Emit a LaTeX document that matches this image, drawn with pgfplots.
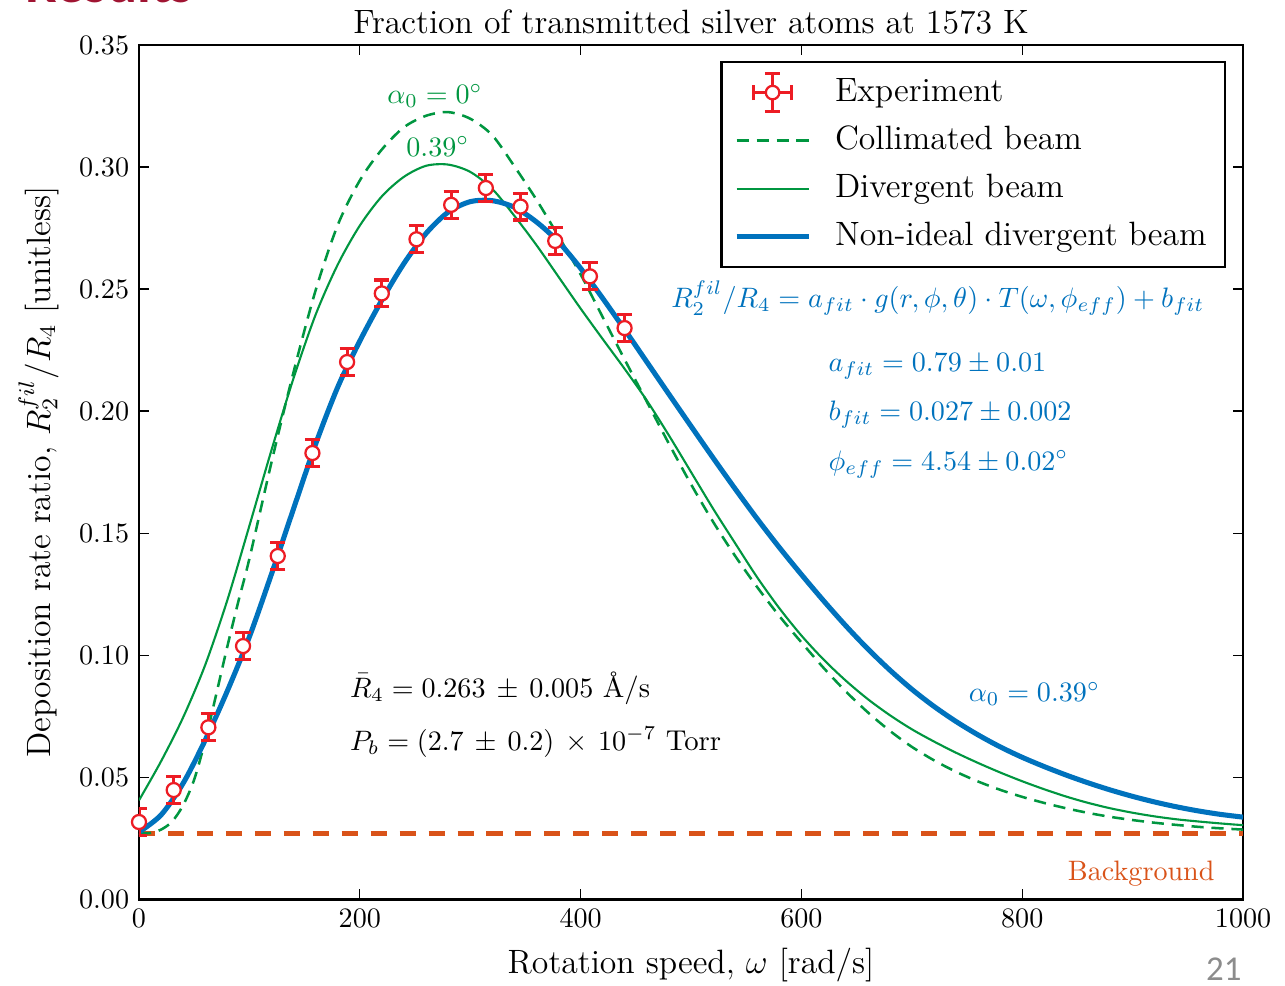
\documentclass[border=0pt]{standalone}
\usepackage{pgfplots}
\usepackage{pgfplotstable}
\pgfplotsset{compat=1.18}
\usepackage{fontspec}
\newfontfamily\calibri{Carlito}
\definecolor{expred}{RGB}{237,28,36}
\definecolor{grn}{RGB}{0,150,64}
\definecolor{blu}{RGB}{0,114,189}
\definecolor{org}{RGB}{217,83,25}
\definecolor{slidered}{RGB}{160,20,50}

\pgfplotstableread{
x y e
0 0.0316 0.0055
31.42 0.0447 0.0055
62.83 0.0704 0.0055
94.25 0.1037 0.0055
125.66 0.1406 0.0055
157.08 0.1828 0.0055
188.50 0.2201 0.0055
219.91 0.2482 0.0055
251.33 0.2704 0.0055
282.74 0.2845 0.0055
314.16 0.2914 0.0055
345.58 0.2838 0.0055
376.99 0.2697 0.0055
408.41 0.2552 0.0055
439.82 0.2340 0.0055
}\exper

\pgfplotstableread{
x y
0 0.0275
20 0.0345
40 0.0475
60 0.0652
80 0.0853
100 0.1075
120 0.1332
140 0.1600
160 0.1865
180 0.2098
200 0.2287
220 0.2455
240 0.2605
260 0.2728
280 0.2815
300 0.2858
320 0.2862
340 0.2835
360 0.2775
380 0.2693
400 0.2585
420 0.2462
440 0.2333
460 0.2201
480 0.2069
500 0.1938
520 0.1808
540 0.1681
560 0.1558
580 0.1441
600 0.1330
620 0.1223
640 0.1121
660 0.1026
680 0.0939
700 0.0860
720 0.0790
740 0.0728
760 0.0673
780 0.0624
800 0.0581
820 0.0543
840 0.0508
860 0.0476
880 0.0447
900 0.0421
920 0.0398
940 0.0378
960 0.0361
980 0.0347
1000 0.0336
}\nonideal

\pgfplotstableread{
x y
0 0.0405
20 0.0565
40 0.0745
60 0.0960
80 0.1225
100 0.1530
120 0.1840
140 0.2135
160 0.2395
180 0.2600
200 0.2760
220 0.2880
240 0.2960
260 0.3005
280 0.3010
300 0.2980
320 0.2910
340 0.2800
360 0.2680
380 0.2550
400 0.2420
420 0.2295
440 0.2172
460 0.2043
480 0.1900
500 0.1750
520 0.1600
540 0.1458
560 0.1318
580 0.1192
600 0.1080
620 0.0982
640 0.0896
660 0.0820
680 0.0754
700 0.0696
720 0.0646
740 0.0600
760 0.0558
780 0.0519
800 0.0483
820 0.0450
840 0.0420
860 0.0394
880 0.0372
900 0.0354
920 0.0339
940 0.0327
960 0.0318
980 0.0310
1000 0.0303
}\divergent

\pgfplotstableread{
x y
0 0.0270
10 0.0271
20 0.0285
30 0.0318
40 0.0385
50 0.0490
60 0.0650
70 0.0840
80 0.1035
90 0.1220
100 0.1395
120 0.1790
140 0.2160
160 0.2495
180 0.2762
200 0.2945
220 0.3072
240 0.3163
260 0.3210
280 0.3225
300 0.3198
320 0.3130
340 0.3003
360 0.2866
380 0.2716
400 0.2560
420 0.2385
440 0.2210
460 0.2038
480 0.1866
500 0.1700
520 0.1546
540 0.1406
560 0.1278
580 0.1160
600 0.1052
620 0.0948
640 0.0852
660 0.0766
680 0.0690
700 0.0624
720 0.0569
740 0.0522
760 0.0482
780 0.0448
800 0.0419
820 0.0394
840 0.0372
860 0.0353
880 0.0337
900 0.0324
920 0.0313
940 0.0304
960 0.0296
980 0.0290
1000 0.0285
}\collimated

\begin{document}
\begin{tikzpicture}
\begin{axis}[
  scale only axis, width=392.7pt, height=303.8pt,
  xmin=0, xmax=1000, ymin=0, ymax=0.35,
  xtick={0,200,400,600,800,1000},
  ytick={0,0.05,0.1,0.15,0.2,0.25,0.3,0.35},
  yticklabel style={/pgf/number format/.cd,fixed,fixed zerofill,precision=2},
  xticklabel style={/pgf/number format/1000 sep={}},
  tick label style={font=\fontsize{10}{12}\selectfont},
  tick align=inside, xtick pos=both, ytick pos=both,
  major tick length=3.5pt,
  every tick/.style={black, line width=0.4pt},
  axis line style={line width=1pt},
  title={Fraction of transmitted silver atoms at 1573 K},
  title style={font=\fontsize{12}{14}\selectfont, at={(0.5,0.9943)}, anchor=base},
  xlabel={Rotation speed, $\omega$ [rad/s]},
  xlabel style={font=\fontsize{12}{14}\selectfont, at={(0.5,-0.0875)}, anchor=base},
  ylabel={Deposition rate ratio, $R_2^{fil}/R_4$ [unitless]},
  ylabel style={font=\fontsize{12}{14}\selectfont, at={(-0.0806,0.5)}, anchor=base, rotate=0},
  legend image code/.code={\draw[#1] (0cm,0cm) -- (0.9cm,0cm);},
  legend style={at={(0.9846,0.981)}, anchor=north east, draw=black, line width=0.8pt,
    font=\fontsize{12}{14}\selectfont, inner xsep=4.5pt, inner ysep=2.2pt,
    nodes={text height=8.6pt, text depth=2.6pt, inner ysep=2.95pt},
    /tikz/every odd column/.append style={column sep=6.5pt}},
  legend cell align=left,
]
\addlegendimage{legend image code/.code={
  \draw[expred,line width=1.1pt] (0.21cm,0cm)--(0.69cm,0cm) (0.45cm,-0.24cm)--(0.45cm,0.24cm);
  \draw[expred,line width=1.1pt] (0.21cm,-0.095cm)--(0.21cm,0.095cm) (0.69cm,-0.095cm)--(0.69cm,0.095cm)
     (0.355cm,0.24cm)--(0.545cm,0.24cm) (0.355cm,-0.24cm)--(0.545cm,-0.24cm);
  \draw[expred,fill=white,line width=0.8pt] (0.45cm,0cm) circle (2.4pt);}}
\addlegendentry{Experiment}
\addlegendimage{grn, line width=0.9pt, dash pattern=on 4.3pt off 2.8pt}
\addlegendentry{Collimated beam}
\addlegendimage{grn, line width=0.75pt}
\addlegendentry{Divergent beam}
\addlegendimage{blu, line width=1.8pt}
\addlegendentry{Non-ideal divergent beam}

\addplot[forget plot, org, line width=1.8pt, dash pattern=on 5.7pt off 4.6pt] coordinates {(0,0.027) (1000,0.027)};
\addplot[forget plot, grn, line width=0.9pt, dash pattern=on 4.3pt off 2.8pt, smooth] table[x=x,y=y] {\collimated};
\addplot[forget plot, grn, line width=0.75pt, smooth] table[x=x,y=y] {\divergent};
\addplot[forget plot, blu, line width=1.8pt, smooth] table[x=x,y=y] {\nonideal};
\addplot[forget plot, expred, only marks, mark=*, mark size=2.5pt,
  mark options={fill=white, draw=expred, line width=0.8pt, solid},
  error bars/.cd, y dir=both, y explicit,
  error bar style={line width=1.1pt, expred},
  error mark options={rotate=90, mark size=2.7pt, line width=1.1pt, expred}]
  table[x=x, y=y, y error=e] {\exper};

\node[grn, anchor=base, font=\fontsize{10.2}{12}\selectfont] at (axis cs:268.1,0.3261) {$\alpha_0 = 0^{\circ}$};
\node[grn, anchor=base, font=\fontsize{10.2}{12}\selectfont] at (axis cs:270.7,0.3045) {$0.39^{\circ}$};
\node[blu, anchor=base west, font=\fontsize{10.2}{12}\selectfont, inner sep=0pt] at (axis cs:481.6,0.2424) {$R_2^{fil}/R_4 = a_{fit}\cdot g(r,\phi,\theta)\cdot T(\omega,\phi_{eff}) + b_{fit}$};
\node[blu, anchor=base west, font=\fontsize{10.2}{12}\selectfont, inner sep=0pt] at (axis cs:624,0.2164) {$a_{fit} = 0.79 \pm 0.01$};
\node[blu, anchor=base west, font=\fontsize{10.2}{12}\selectfont, inner sep=0pt] at (axis cs:624,0.1963) {$b_{fit} = 0.027 \pm 0.002$};
\node[blu, anchor=base west, font=\fontsize{10.2}{12}\selectfont, inner sep=0pt] at (axis cs:624,0.1758) {$\phi_{eff} = 4.54 \pm 0.02^{\circ}$};
\node[black, anchor=base west, font=\fontsize{10.2}{12}\selectfont, inner sep=0pt] at (axis cs:190.7,0.0828) {$\bar{R}_4 = 0.263 \,\pm\, 0.005$ \AA/s};
\node[black, anchor=base west, font=\fontsize{10.2}{12}\selectfont, inner sep=0pt] at (axis cs:190.7,0.0611) {$P_b = (2.7 \,\pm\, 0.2) \,\times\, 10^{-7}$ Torr};
\node[blu, anchor=base west, font=\fontsize{10.2}{12}\selectfont, inner sep=0pt] at (axis cs:751.2,0.0811) {$\alpha_0 = 0.39^{\circ}$};
\node[org, anchor=base east, font=\fontsize{10}{12}\selectfont, inner sep=0pt] at (axis cs:974.6,0.0075) {Background};

\coordinate (BL) at (rel axis cs:-0.1259,-0.1007);
\coordinate (TR) at (rel axis cs:1.0380,1.0527);
\coordinate (RES) at (rel axis cs:-0.1033,1.0500);
\coordinate (PG) at (rel axis cs:0.9991,-0.0949);
\end{axis}
\node[anchor=base west, inner sep=0pt, text=slidered, font=\calibri\bfseries\fontsize{20}{24}\selectfont] at (RES) {Results};
\node[anchor=base east, inner sep=0pt, text=black!45, font=\calibri\fontsize{12.4}{14}\selectfont] at (PG) {21};
\pgfresetboundingbox
\path[use as bounding box] (BL) rectangle (TR);
\end{tikzpicture}
\end{document}
